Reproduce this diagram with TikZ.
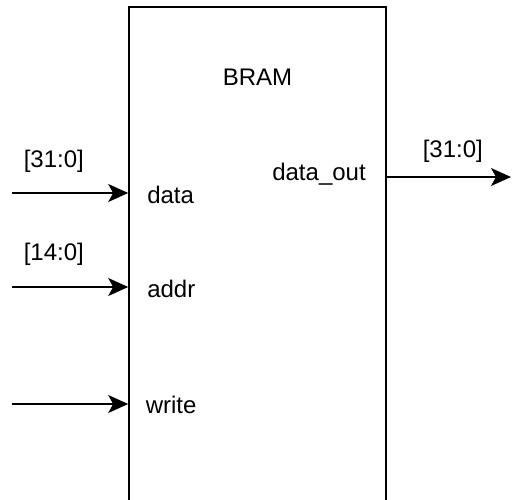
\documentclass[tikz,border=0pt]{standalone}
\usepackage{fontspec}
\setmainfont{Liberation Sans}
\usetikzlibrary{arrows.meta}

\begin{document}
\begin{tikzpicture}[x=1pt, y=-1pt, line width=1.6pt,
    sig/.style={-{Stealth[length=20pt, width=18pt, inset=5pt]}},
    every node/.style={font=\fontsize{24}{29}\selectfont, inner sep=0pt},
    port/.style={anchor=base west},
    bus/.style={anchor=base west}]
    \useasboundingbox (0,0) rectangle (512,499);

    % Block
    \node[draw, minimum width=257pt, minimum height=530pt] (bram) at (257.5,272) {};
    \node[anchor=base] (title) at (257.5,85) {BRAM};

    % Ports
    \node[port] (data) at (146.5,203) {data};
    \node[port] (addr) at (146.5,297) {addr};
    \node[port] (write) at (145,413) {write};
    \node[port] (dout) at (271.5,180) {data\_out};

    % Bus widths
    \node[bus] (wdata) at (23,167) {[31:0]};
    \node[bus] (waddr) at (23,260) {[14:0]};
    \node[bus] (wdout) at (422,157) {[31:0]};

    % Signal ends
    \coordinate (indata) at (12,193);
    \coordinate (inaddr) at (12,287);
    \coordinate (inwrite) at (12,404);
    \coordinate (outdata) at (511,177);

    % Arrows
    \draw[sig] (indata) -- (indata -| bram.west);
    \draw[sig] (inaddr) -- (inaddr -| bram.west);
    \draw[sig] (inwrite) -- (inwrite -| bram.west);
    \draw[sig] (outdata -| bram.east) -- (outdata);
\end{tikzpicture}
\end{document}
